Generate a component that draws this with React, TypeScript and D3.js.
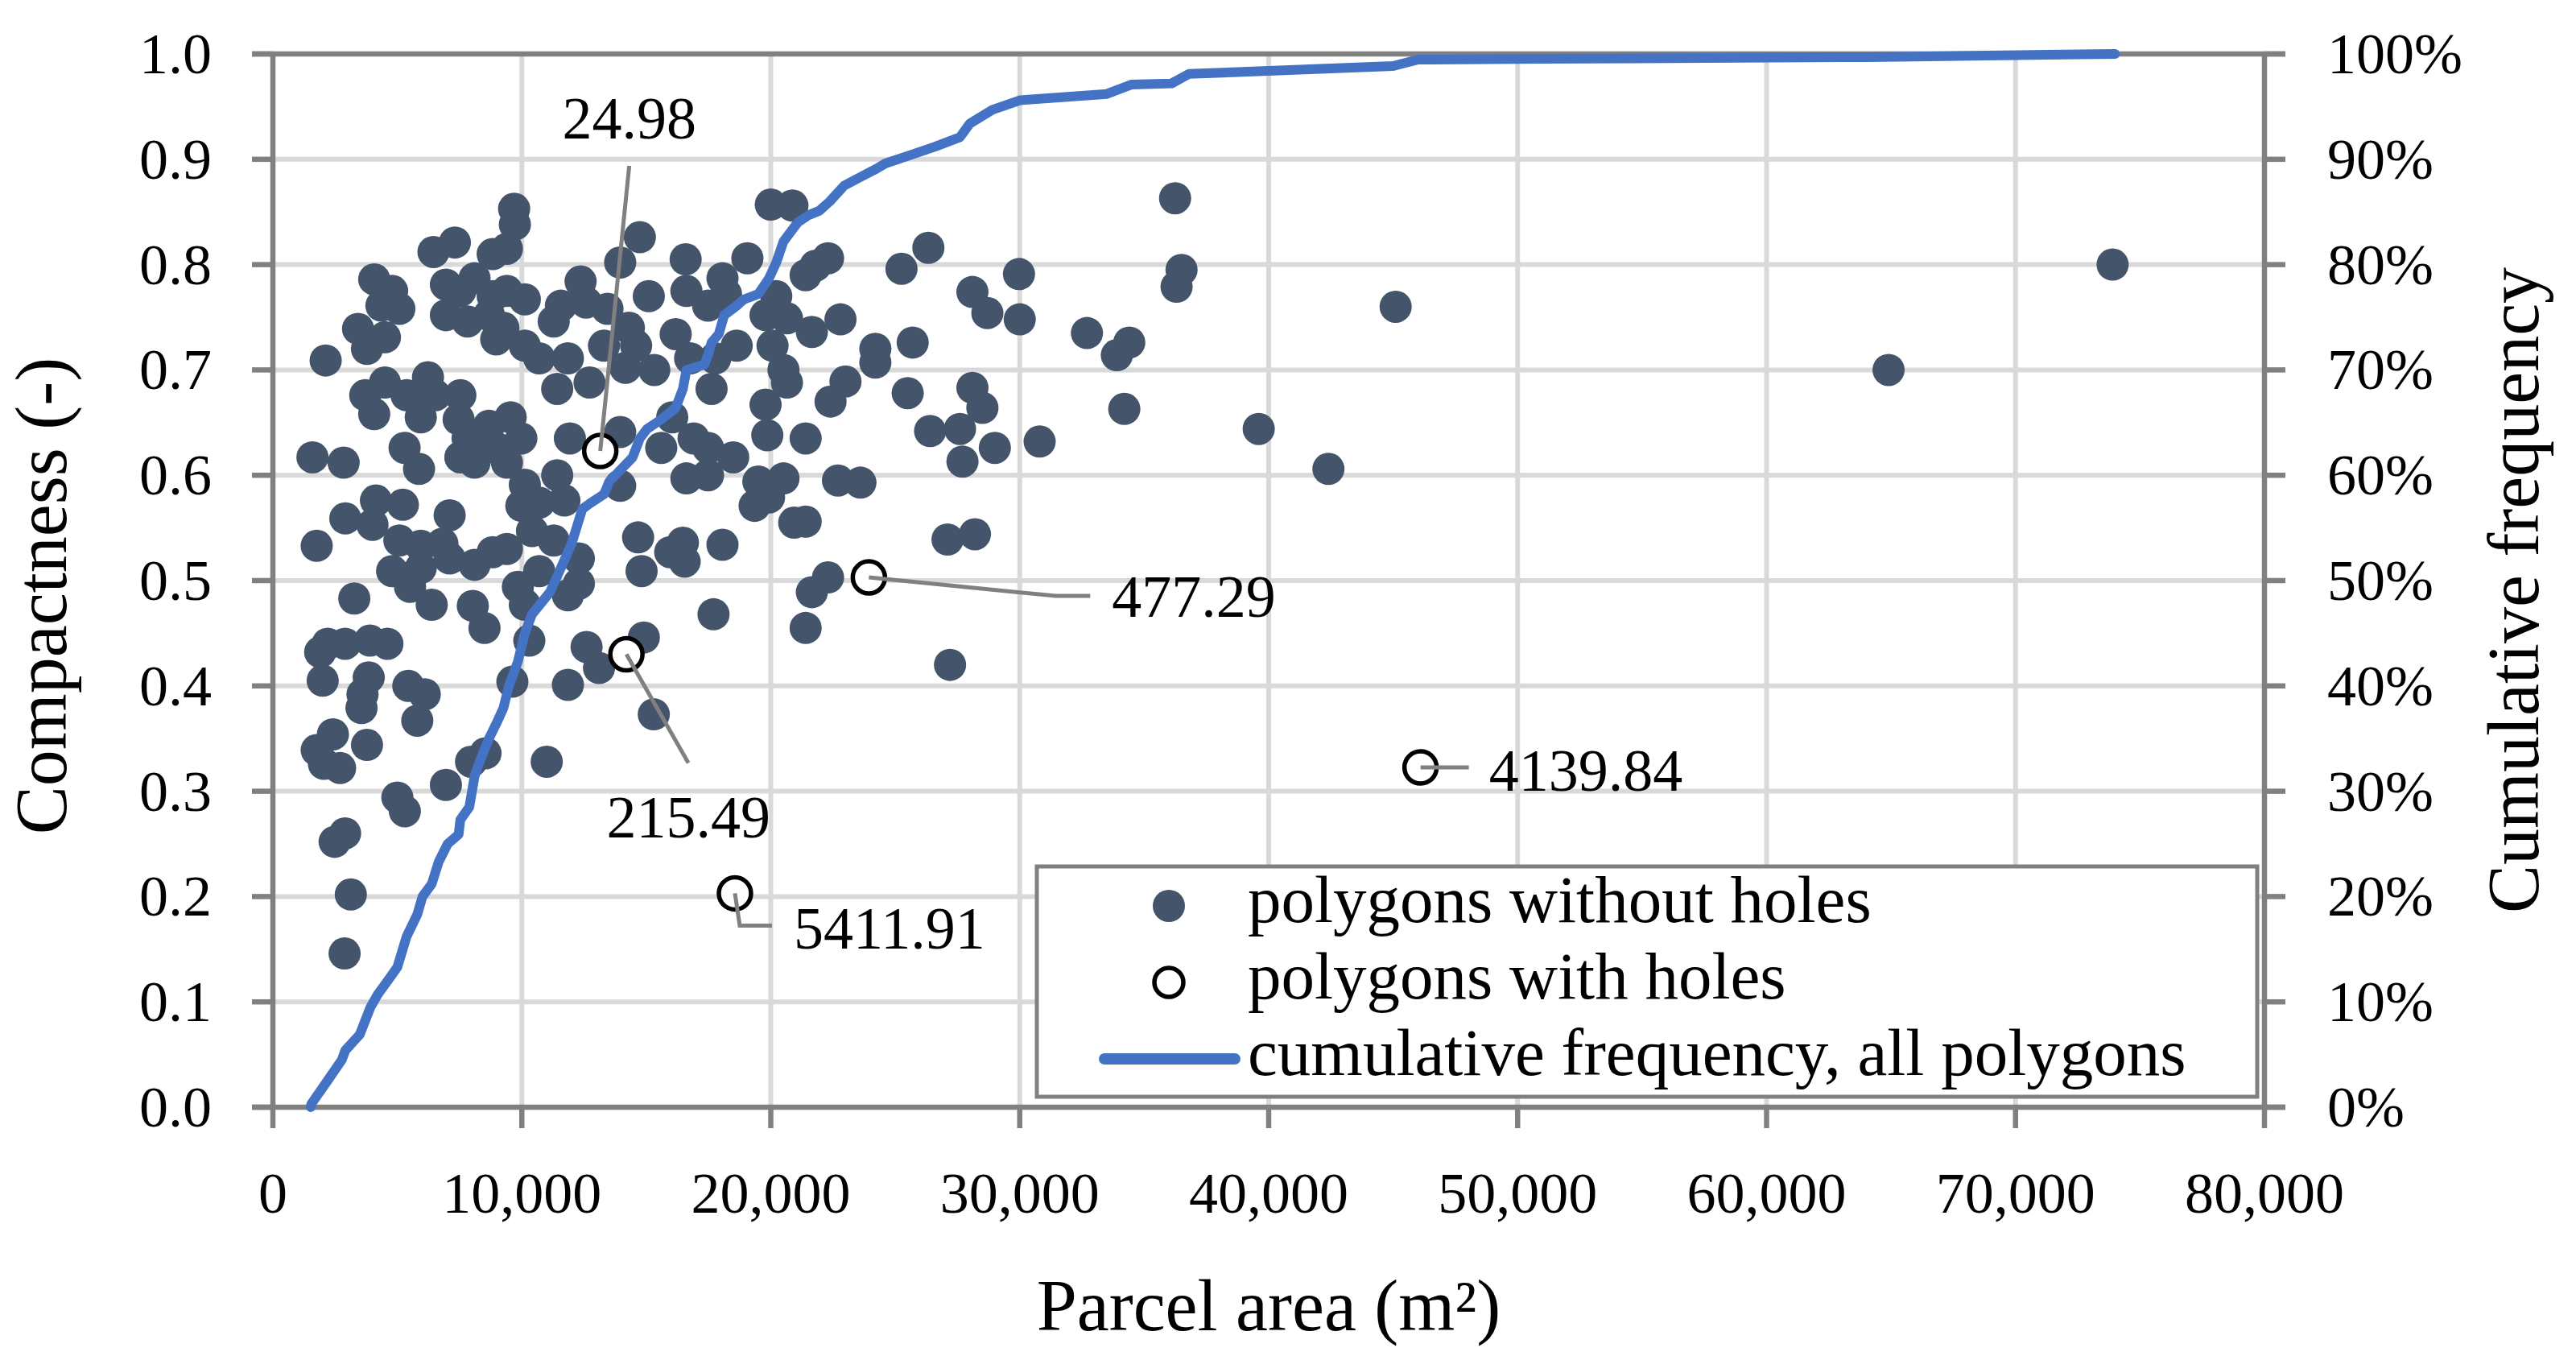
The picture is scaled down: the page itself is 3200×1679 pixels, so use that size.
import React, { useEffect } from 'react';
import * as d3 from 'd3';

// polygons without holes: parcel area (m²) and compactness (-)
const plainArea = [
  1900, 2200, 2900, 3900, 4600, 8500, 10300, 12600, 13100, 14900, 17700, 21400,
  2000, 3850, 3600, 3560, 5440, 6100, 5800, 9620, 11850, 15300, 2410, 1760,
  2050, 2700, 3780, 8540, 7960, 6950, 5000, 5300, 11000, 2900, 2480, 3130, 2880,
  36240, 26330, 25250, 22300, 21800, 21400, 29970, 36500, 36300, 28100, 28700,
  30000, 22800, 21650, 32700, 34400, 33900, 24200, 24200, 25700, 23000, 22400,
  25500, 28100, 28500, 34200, 26400, 27600, 29000, 27700, 30800, 39600, 42400,
  21400, 22700, 23600, 21400, 27100, 28200, 22300, 21650, 27200, 45100, 64900, 73900,
  9690, 9720, 14740, 20000, 20870, 6450, 7310, 9400, 8830, 13950, 16580, 19060,
  4070, 4790, 5080, 4360, 3420, 3780, 4500, 6950, 7530, 8100, 8830, 9400, 10120,
  6950, 7820, 8680, 9260, 8970, 12360, 15100, 16610, 17480, 18060, 18200, 11570,
  11280, 12580, 13440, 14300, 13300, 14590, 16180, 16760, 15320, 14160, 12720,
  11420, 10700, 11850, 10120, 20220, 19790, 20650, 2120, 18630, 17770, 17620,
  20070, 20510, 20650, 19790, 3710, 4070, 4500, 5370, 5940, 6230, 6520, 7530,
  7460, 7820, 8680, 9550, 9980, 8970, 7530, 8100, 9400, 5290, 5870, 1590, 2840,
  11930, 13950, 16040, 15600, 16900, 17480, 18490, 16610, 17480, 19860, 11420,
  11710, 10120, 9980, 10700, 13950, 19500, 20510, 19350, 19930, 20940, 4140,
  5220, 2910, 4000, 7100, 5080, 5940, 6810, 7100, 1760, 4790, 5510, 6380, 5940,
  8100, 8830, 9400, 10410, 11280, 12290, 12290, 11850, 10700, 9840, 10120, 14670,
  14810, 15960, 16470, 16540, 18060, 3270, 8030,
];
const plainCompactness = [
  0.432, 0.44, 0.44, 0.443, 0.44, 0.455, 0.443, 0.437, 0.417, 0.446, 0.468, 0.455,
  0.405, 0.408, 0.392, 0.379, 0.4, 0.392, 0.367, 0.404, 0.401, 0.373, 0.354, 0.339,
  0.326, 0.322, 0.344, 0.336, 0.328, 0.306, 0.294, 0.281, 0.328, 0.26, 0.252, 0.202, 0.146,
  0.863, 0.816, 0.796, 0.806, 0.799, 0.79, 0.791, 0.795, 0.779, 0.774, 0.754,
  0.748, 0.748, 0.736, 0.735, 0.726, 0.714, 0.72, 0.707, 0.726, 0.689, 0.67,
  0.678, 0.683, 0.664, 0.663, 0.642, 0.644, 0.626, 0.613, 0.632, 0.644, 0.606,
  0.635, 0.595, 0.593, 0.556, 0.539, 0.544, 0.503, 0.489, 0.42, 0.76, 0.7, 0.8,
  0.853, 0.838, 0.826, 0.857, 0.856, 0.812, 0.821, 0.815, 0.81, 0.802, 0.805, 0.806,
  0.786, 0.775, 0.758, 0.761, 0.739, 0.72, 0.731, 0.781, 0.775, 0.787, 0.77, 0.775, 0.767,
  0.752, 0.746, 0.752, 0.74, 0.729, 0.784, 0.77, 0.775, 0.761, 0.787, 0.772, 0.761,
  0.746, 0.764, 0.758, 0.74, 0.723, 0.723, 0.734, 0.711, 0.7, 0.702, 0.688,
  0.682, 0.711, 0.711, 0.723, 0.77, 0.752, 0.749, 0.709, 0.723, 0.711, 0.682,
  0.723, 0.7, 0.688, 0.667, 0.676, 0.658, 0.688, 0.676, 0.655, 0.693, 0.676, 0.676,
  0.653, 0.635, 0.647, 0.655, 0.635, 0.626, 0.617, 0.612, 0.612, 0.626, 0.606, 0.617, 0.612,
  0.635, 0.641, 0.655, 0.626, 0.635, 0.626, 0.617, 0.597, 0.6, 0.638, 0.6,
  0.576, 0.591, 0.571, 0.574, 0.59, 0.594, 0.597, 0.571, 0.579, 0.555, 0.576,
  0.572, 0.559, 0.553, 0.562, 0.538, 0.533, 0.535, 0.521, 0.533, 0.509, 0.494, 0.477, 0.512,
  0.515, 0.527, 0.53, 0.547, 0.538, 0.521, 0.497, 0.486, 0.509, 0.494, 0.477, 0.541,
  0.509, 0.527, 0.536, 0.518, 0.534, 0.483, 0.476,
];

// polygons with holes, labelled with their hole area
const holeArea = [13150, 14200, 23940, 46100, 18560];
const holeCompactness = [0.623, 0.43, 0.503, 0.3226, 0.203];
const holeLabels = ['24.98', '215.49', '477.29', '4139.84', '5411.91'];

// cumulative frequency of all polygons
const cumArea = [
  1520, 1540, 2190, 2770, 2910, 3490, 3920, 4210, 4640, 5000, 5370, 5800, 6010,
  6380, 6660, 7020, 7460, 7530, 7890, 8100, 8320, 8680, 8970, 9260, 9480, 9840,
  10120, 10410, 11130, 11570, 12000, 12430, 12720, 13300, 13510, 14000, 14450,
  14740, 15030, 15600, 16180, 16470, 16610, 17330, 17480, 17620, 17910, 18130,
  18630, 18920, 19500, 19930, 20220, 20510, 21080, 21520, 21940, 22370, 22950,
  23670, 24240, 24600, 25600, 26600, 27600, 28000, 28900, 30000, 33500, 34500,
  36100, 36800, 45000, 46000, 50950, 57500, 64100, 74000,
];
const cumFreq = [
  0, 0.003, 0.025, 0.045, 0.054, 0.069, 0.095, 0.107, 0.121, 0.133, 0.162, 0.183, 0.2,
  0.212, 0.233, 0.25, 0.259, 0.273, 0.285, 0.314, 0.329, 0.35, 0.364, 0.379, 0.4, 0.423,
  0.45, 0.468, 0.489, 0.512, 0.535, 0.568, 0.573, 0.582, 0.594, 0.606, 0.617,
  0.635, 0.644, 0.653, 0.664, 0.682, 0.7, 0.705, 0.714, 0.726, 0.734, 0.752,
  0.761, 0.767, 0.772, 0.787, 0.802, 0.822, 0.84, 0.847, 0.851, 0.86, 0.875,
  0.884, 0.891, 0.896, 0.904, 0.912, 0.921, 0.934, 0.947, 0.956, 0.962, 0.971,
  0.972, 0.981, 0.9885, 0.9946, 0.9954, 0.9962, 0.997, 1.0,
];

const xTicks = [0, 10000, 20000, 30000, 40000, 50000, 60000, 70000, 80000];
const yTicks = [0, 0.1, 0.2, 0.3, 0.4, 0.5, 0.6, 0.7, 0.8, 0.9, 1.0];

const legendLabels = [
  'polygons without holes',
  'polygons with holes',
  'cumulative frequency, all polygons',
];

// leader line / label placement relative to each hollow point (px)
const leaders: { pts: [number, number][]; label: [number, number]; anchor: string }[] = [
  { pts: [[36, -354]], label: [36, -388], anchor: 'middle' },
  { pts: [[77, 135]], label: [77, 227], anchor: 'middle' },
  { pts: [[232, 23], [275, 23]], label: [302, 49], anchor: 'start' },
  { pts: [[60, 0]], label: [85, 29], anchor: 'start' },
  { pts: [[6, 40], [46, 40]], label: [73, 69], anchor: 'start' },
];

const W = 3200;
const H = 1679;
const FONT = '"Liberation Serif", "Times New Roman", serif';
const GRID = '#d9d9d9';
const AXIS = '#808080';
const DOT = '#44546a';
const LINE = '#4472c4';

const App: React.FC = () => {
  useEffect(() => {
    document.body.style.margin = '0';
  }, []);

  const x = d3.scaleLinear().domain([0, 80000]).range([339, 2813]);
  const y = d3.scaleLinear().domain([0, 1]).range([1375, 67]);
  const left = x(0);
  const right = x(80000);
  const top = y(1);
  const bottom = y(0);

  const plain = plainArea.map((a, i) => ({ a, c: plainCompactness[i] }));
  const holes = holeArea.map((a, i) => ({ a, c: holeCompactness[i], label: holeLabels[i] }));
  const cum = cumArea.map((a, i) => ({ a, f: cumFreq[i] }));

  const line = d3.line<{ a: number; f: number }>()
    .x(d => x(d.a))
    .y(d => y(d.f));

  const fmtX = d3.format(',');
  const fmtY = d3.format('.1f');
  const fmtP = d3.format('.0%');

  const lg = { x: 1288, y: 1076, w: 1516, h: 286 };

  return (
    <svg width={W} height={H} style={{ display: 'block', background: '#fff' }} fontFamily={FONT}>
      <rect width={W} height={H} fill="#fff" />

      {/* grid */}
      {xTicks.slice(1, -1).map(t => (
        <line key={'gx' + t} x1={x(t)} x2={x(t)} y1={top} y2={bottom} stroke={GRID} strokeWidth={6} />
      ))}
      {yTicks.slice(1, -1).map(t => (
        <line key={'gy' + t} x1={left} x2={right} y1={y(t)} y2={y(t)} stroke={GRID} strokeWidth={6} />
      ))}

      {/* axes */}
      <g stroke={AXIS} strokeWidth={6.5}>
        <line x1={left} x2={left} y1={top} y2={bottom} />
        <line x1={right} x2={right} y1={top} y2={bottom + 3} />
        <line x1={left - 26} x2={right + 26} y1={bottom} y2={bottom} />
        <line x1={left - 26} x2={right + 26} y1={top} y2={top} />
        {yTicks.map(t => (
          <g key={'ty' + t}>
            <line x1={left - 26} x2={left} y1={y(t)} y2={y(t)} />
            <line x1={right} x2={right + 26} y1={y(t)} y2={y(t)} />
          </g>
        ))}
        {xTicks.map(t => (
          <line key={'tx' + t} x1={x(t)} x2={x(t)} y1={bottom} y2={bottom + 26} />
        ))}
      </g>

      {/* tick labels */}
      <g fontSize={72} fill="#000">
        {yTicks.map(t => (
          <text key={'ly' + t} x={263} y={y(t) + 24} textAnchor="end">{fmtY(t)}</text>
        ))}
        {yTicks.map(t => (
          <text key={'lp' + t} x={2891} y={y(t) + 24} textAnchor="start">{fmtP(t)}</text>
        ))}
        {xTicks.map(t => (
          <text key={'lx' + t} x={x(t)} y={1506} textAnchor="middle">{fmtX(t)}</text>
        ))}
      </g>

      {/* axis titles */}
      <g fontSize={90} fill="#000">
        <text x={1576} y={1652} textAnchor="middle">Parcel area (m²)</text>
        <text transform="translate(82,740) rotate(-90)" textAnchor="middle">Compactness (-)</text>
        <text transform="translate(3153,733) rotate(-90)" textAnchor="middle">Cumulative frequency</text>
      </g>

      {/* polygons without holes */}
      <g fill={DOT}>
        {plain.map((d, i) => (
          <circle key={'p' + i} cx={x(d.a)} cy={y(d.c)} r={20} />
        ))}
      </g>

      {/* cumulative frequency */}
      <path d={line(cum) || ''} fill="none" stroke={LINE} strokeWidth={12}
        strokeLinejoin="round" strokeLinecap="round" />

      {/* polygons with holes */}
      {holes.map((d, i) => (
        <circle key={'h' + i} cx={x(d.a)} cy={y(d.c)} r={20} fill="#fff" stroke="#000" strokeWidth={5.5} />
      ))}

      {/* leader lines and labels */}
      {holes.map((d, i) => {
        const px = x(d.a);
        const py = y(d.c);
        const L = leaders[i];
        const pts = [[px, py], ...L.pts.map(([dx, dy]) => [px + dx, py + dy])];
        return (
          <g key={'lab' + i}>
            <polyline points={pts.map(p => p.join(',')).join(' ')} fill="none" stroke={AXIS} strokeWidth={5} />
            <text x={px + L.label[0]} y={py + L.label[1]} fontSize={74} textAnchor={L.anchor}>{d.label}</text>
          </g>
        );
      })}

      {/* legend */}
      <g>
        <rect x={lg.x} y={lg.y} width={lg.w} height={lg.h} fill="#fff" stroke={AXIS} strokeWidth={5} />
        <circle cx={1452} cy={1125} r={20} fill={DOT} />
        <circle cx={1452} cy={1220} r={18} fill="#fff" stroke="#000" strokeWidth={5.5} />
        <line x1={1372} x2={1534} y1={1315} y2={1315} stroke={LINE} strokeWidth={14} strokeLinecap="round" />
        {legendLabels.map((t, i) => (
          <text key={'lg' + i} x={1550} y={1145 + i * 95} fontSize={83}>{t}</text>
        ))}
      </g>
    </svg>
  );
};

export default App;
